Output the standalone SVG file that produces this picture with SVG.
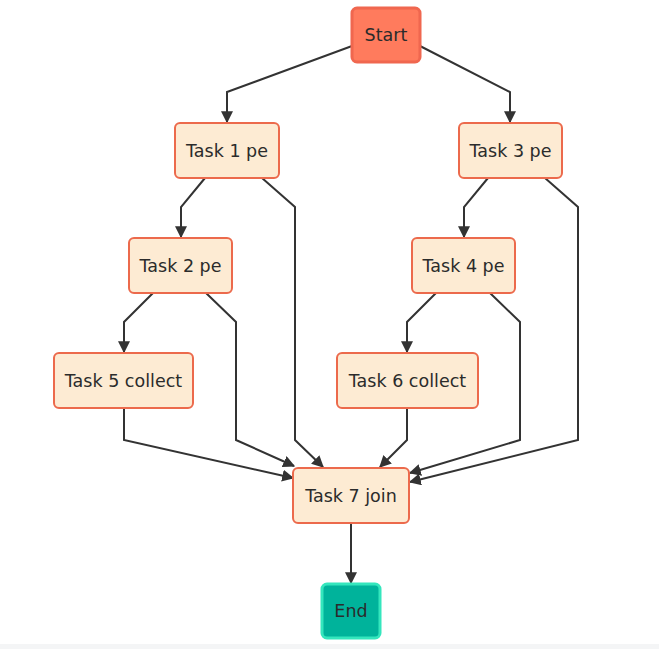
<svg xmlns="http://www.w3.org/2000/svg" width="659" height="649" viewBox="0 0 659 649">
<style>
.n rect{fill:#fdebd3;stroke:#ec6a4c;stroke-width:2}
.s rect{fill:#ff7b5d;stroke:#f0674f;stroke-width:3}
.e rect{fill:#00b39b;stroke:#34e6bd;stroke-width:3}
text{font-family:"DejaVu Sans","Noto Sans",sans-serif;font-size:17.5px;fill:#2b2b2b;text-anchor:middle;dominant-baseline:central}
.c polyline{fill:none;stroke:#333;stroke-width:2;marker-end:url(#a)}
</style>
<defs>
<marker id="a" viewBox="0 0 10 10" refX="9" refY="5" markerWidth="12" markerHeight="12" markerUnits="userSpaceOnUse" orient="auto">
<path d="M0,0 L10,5 L0,10 z" fill="#333"/>
</marker>
</defs>
<rect width="659" height="649" fill="#fff"/>
<rect x="0" y="644" width="659" height="5" fill="#f4f5f6"/>
<g class="c" id="connectors">
<polyline points="352,46 227,92 227,122"/>
<polyline points="420,46 510,92 510,122"/>
<polyline points="205,178 181,207 181,237"/>
<polyline points="262,178 295,207 295,440 323,467"/>
<polyline points="488,178 464,207 464,237"/>
<polyline points="545,178 578,207 578,440 410,482"/>
<polyline points="153,293 124,322 124,352"/>
<polyline points="206,293 236,322 236,440 294,466"/>
<polyline points="436,293 407,322 407,352"/>
<polyline points="490,293 520,322 520,440 410,473"/>
<polyline points="124,408 124,440 293,478"/>
<polyline points="407,408 407,440 380,467"/>
<polyline points="351,523 351,583"/>
</g>
<g id="start" class="s"><rect x="352" y="8" width="68" height="54" rx="5"/><text x="386" y="35">Start</text></g>
<g id="task1" class="n"><rect x="175" y="123" width="104" height="55" rx="5"/><text x="227" y="150.5">Task 1 pe</text></g>
<g id="task3" class="n"><rect x="459" y="123" width="103" height="55" rx="5"/><text x="510.5" y="150.5">Task 3 pe</text></g>
<g id="task2" class="n"><rect x="129" y="238" width="103" height="55" rx="5"/><text x="180.5" y="265.5">Task 2 pe</text></g>
<g id="task4" class="n"><rect x="412" y="238" width="103" height="55" rx="5"/><text x="463.5" y="265.5">Task 4 pe</text></g>
<g id="task5" class="n"><rect x="54" y="353" width="139" height="55" rx="5"/><text x="123.5" y="380.5">Task 5 collect</text></g>
<g id="task6" class="n"><rect x="337" y="353" width="141" height="55" rx="5"/><text x="407.5" y="380.5">Task 6 collect</text></g>
<g id="task7" class="n"><rect x="293" y="468" width="116" height="55" rx="5"/><text x="351" y="495.5">Task 7 join</text></g>
<g id="end" class="e"><rect x="322" y="584" width="58" height="54" rx="5"/><text x="351" y="611">End</text></g>
</svg>
